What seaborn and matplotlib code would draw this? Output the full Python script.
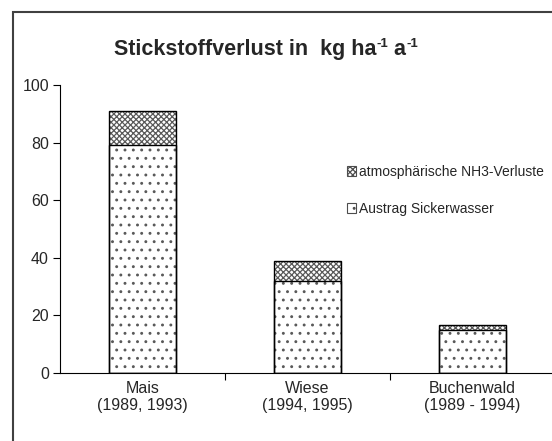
import matplotlib
matplotlib.use('Agg')
import matplotlib.pyplot as plt
import seaborn as sns
import pandas as pd
from matplotlib.patches import Patch, Rectangle

# data
standorte = ['Mais\n(1989, 1993)', 'Wiese\n(1994, 1995)', 'Buchenwald\n(1989 - 1994)']
sickerwasser = [79, 32, 15]      # Austrag Sickerwasser
nh3 = [12, 7, 1.5]               # atmosphaerische NH3-Verluste
yticks = [0, 20, 40, 60, 80, 100]

df = pd.DataFrame({'Standort': standorte,
                   'Sickerwasser': sickerwasser,
                   'NH3': nh3})
df['Gesamt'] = df['Sickerwasser'] + df['NH3']

sns.set_style('white')
plt.rcParams['font.family'] = ['Liberation Sans', 'DejaVu Sans']
plt.rcParams['hatch.linewidth'] = 0.9

fig = plt.figure(figsize=(5.52, 4.41), dpi=100)
ax = fig.add_axes([60 / 552, 1 - 373 / 441, 495 / 552, (373 - 85) / 441])

# total bar (crosshatch shows the NH3 part), then lower part over it
sns.barplot(data=df, x='Standort', y='Gesamt', ax=ax, color='white',
            edgecolor='0.35', linewidth=0, hatch='xxxxxx', width=0.41)
sns.barplot(data=df, x='Standort', y='Sickerwasser', ax=ax, color='white',
            edgecolor='0.35', linewidth=0, hatch='..', width=0.41)
# black outlines
sns.barplot(data=df, x='Standort', y='Gesamt', ax=ax, fill=False,
            edgecolor='black', linewidth=1.0, width=0.41)
sns.barplot(data=df, x='Standort', y='Sickerwasser', ax=ax, fill=False,
            edgecolor='black', linewidth=1.0, width=0.41)

ax.set_xlim(-0.5, 2.5)
ax.set_ylim(0, 100)
ax.set_yticks(yticks)
ax.set_xlabel('')
ax.set_ylabel('')
ax.set_xticks([0, 1, 2])
ax.set_xticklabels(standorte, fontsize=11.5, linespacing=1.15)
ax.set_xticks([0.5, 1.5], minor=True)
ax.tick_params(axis='x', which='major', length=0, pad=6)
ax.tick_params(axis='x', which='minor', length=5, width=0.8, color='black', direction='out')
ax.tick_params(axis='y', length=5, width=0.8, color='black', direction='out', labelsize=11.5, pad=3)
ax.xaxis.set_ticks_position('bottom')
ax.yaxis.set_ticks_position('left')

for s in ['top', 'right']:
    ax.spines[s].set_visible(False)
for s in ['left', 'bottom']:
    ax.spines[s].set_color('black')
    ax.spines[s].set_linewidth(0.8)

# title with small raised "-1" pieces, centred as a whole
pieces = [('Stickstoffverlust in  kg ha', 15.5, 0), ('-1', 9.5, 8),
          (' a', 15.5, 0), ('-1', 9.5, 8)]
fig.canvas.draw()
renderer = fig.canvas.get_renderer()
texts = []
for s, size, dy in pieces:
    t = fig.text(0, 0, s, fontsize=size, fontweight='bold', ha='left', va='baseline')
    texts.append((t, dy))
widths = [t.get_window_extent(renderer).width for t, _ in texts]
x = 266 - sum(widths) / 2
base = 441 - 55
for (t, dy), w in zip(texts, widths):
    t.set_position((x / 552, (base + dy) / 441))
    x += w

handles = [Patch(facecolor='white', edgecolor='0.3', hatch='xxxxxx', linewidth=0.8),
           Patch(facecolor='white', edgecolor='0.3', hatch='..', linewidth=0.8)]
labels = ['atmosphärische NH3-Verluste', 'Austrag Sickerwasser']
fig.legend(handles, labels, loc='upper left', bbox_to_anchor=(340 / 552, 1 - 158 / 441),
           frameon=False, fontsize=10, handlelength=0.65, handleheight=0.65,
           handletextpad=0.2, labelspacing=1.65, borderpad=0)

# outer chart frame (cut off at right and bottom like the reference)
fig.patches.append(Rectangle((13 / 552, -0.1), 1.2, 1 + 0.1 - 12 / 441,
                             transform=fig.transFigure, fill=False,
                             edgecolor='0.25', linewidth=1.5))

fig.savefig('out.png', dpi=100)
